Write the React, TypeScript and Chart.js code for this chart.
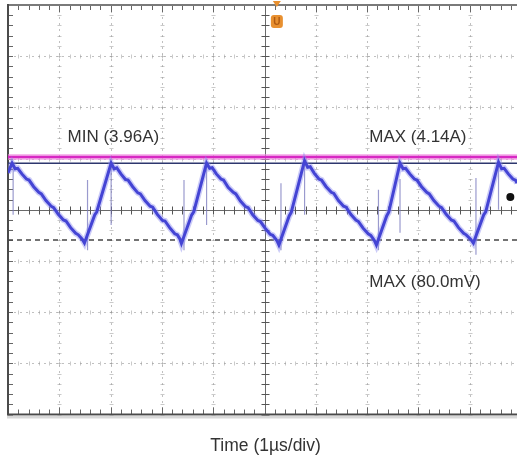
import React, { useEffect, useRef } from "react";
import { Chart, registerables } from "chart.js";

Chart.register(...registerables);

// Time axis in divisions (1 µs/div), current trace in vertical divisions
const timeDiv = [
  0.0,
  0.08, 0.14, 0.19, 0.27, 0.36, 0.41, 0.5, 0.6, 0.65, 0.74, 0.84, 0.89, 0.98, 1.08, 1.13, 1.22, 1.32, 1.37, 1.45, 1.49, 1.69, 1.73,
  2.01, 2.07, 2.12, 2.2, 2.29, 2.34, 2.43, 2.53, 2.58, 2.67, 2.77, 2.82, 2.91, 3.01, 3.06, 3.15, 3.25, 3.3, 3.35, 3.38, 3.58, 3.62,
  3.87, 3.93, 3.98, 4.06, 4.15, 4.2, 4.29, 4.39, 4.44, 4.53, 4.63, 4.68, 4.77, 4.87, 4.92, 5.01, 5.11, 5.16, 5.24, 5.28, 5.48, 5.52,
  5.78, 5.84, 5.89, 5.97, 6.06, 6.11, 6.2, 6.3, 6.35, 6.44, 6.54, 6.59, 6.68, 6.78, 6.83, 6.92, 7.02, 7.07, 7.14, 7.18, 7.38, 7.42,
  7.64, 7.7, 7.75, 7.83, 7.92, 7.97, 8.06, 8.16, 8.21, 8.3, 8.4, 8.45, 8.54, 8.64, 8.69, 8.78, 8.88, 8.93, 9.02, 9.07, 9.27, 9.31,
  9.56, 9.62, 9.67, 9.75, 9.84, 9.89, 9.92,
];
const currentDiv = [
  0.72,
  0.91, 0.8, 0.81, 0.7, 0.6, 0.58, 0.45, 0.34, 0.31, 0.18, 0.07, 0.04, -0.09, -0.2, -0.22, -0.35, -0.46, -0.49, -0.58, -0.65, -0.1, -0.04,
  0.91, 0.8, 0.82, 0.7, 0.59, 0.58, 0.45, 0.33, 0.31, 0.18, 0.07, 0.05, -0.09, -0.21, -0.22, -0.35, -0.47, -0.49, -0.57, -0.66, -0.1, -0.04,
  0.91, 0.81, 0.82, 0.7, 0.6, 0.58, 0.44, 0.34, 0.31, 0.17, 0.06, 0.04, -0.1, -0.21, -0.23, -0.36, -0.48, -0.5, -0.6, -0.69, -0.12, -0.05,
  0.96, 0.83, 0.84, 0.71, 0.6, 0.58, 0.45, 0.34, 0.32, 0.18, 0.07, 0.05, -0.09, -0.2, -0.23, -0.36, -0.47, -0.5, -0.6, -0.69, -0.12, -0.05,
  0.91, 0.8, 0.81, 0.7, 0.6, 0.58, 0.45, 0.34, 0.31, 0.18, 0.07, 0.04, -0.09, -0.2, -0.22, -0.35, -0.46, -0.49, -0.58, -0.65, -0.1, -0.04,
  0.93, 0.8, 0.81, 0.7, 0.6, 0.58, 0.52,
];

// switching spikes
const spikeTime = [0.1, 1.55, 2.01, 3.43, 3.87, 5.32, 5.78, 7.22, 7.64, 9.12, 9.56];
const spikeTop = [0.87, 0.58, 0.87, 0.58, 0.87, 0.52, 0.97, 0.39, 0.6, 0.62, 0.97];
const spikeBottom = [-0.1, -0.79, -0.3, -0.79, -0.3, -0.79, -0.1, -0.79, -0.45, -0.88, 0.0];

// cursor levels (divisions)
const minCursorLevel = 1.03;
const maxCursorLevel = 0.91;
const voltMaxLevel = -0.59;

const markerTime = [9.79];
const markerLevel = [0.25];

const labelTexts = ["MIN (3.96A)", "MAX (4.14A)", "MAX (80.0mV)"];
const xTitle = "Time (1µs/div)";
const triggerLetter = "U";

const X_MIN = 0;
const X_MAX = 9.92;
const Y_MIN = -4;
const Y_MAX = 4;

const FONT = '"Liberation Sans", Arial, Helvetica, sans-serif';

const scopePlugin = {
  id: "scope",
  beforeDraw(chart: any) {
    const ctx = chart.ctx;
    ctx.save();
    ctx.fillStyle = "#ffffff";
    ctx.fillRect(0, 0, chart.width, chart.height);
    ctx.restore();
  },
  beforeDatasetsDraw(chart: any) {
    const { ctx, chartArea: a } = chart;
    const xs = chart.scales.x;
    const ys = chart.scales.y;
    const line = (x1: number, y1: number, x2: number, y2: number) => {
      ctx.beginPath();
      ctx.moveTo(x1, y1);
      ctx.lineTo(x2, y2);
      ctx.stroke();
    };
    ctx.save();
    // dotted major grid
    ctx.strokeStyle = "rgba(165,165,165,0.7)";
    ctx.lineWidth = 1;
    ctx.setLineDash([2, 4]);
    for (let i = 1; i <= 9; i++) {
      if (i === 5) continue;
      const px = Math.round(xs.getPixelForValue(i)) + 0.5;
      line(px, a.top, px, a.bottom);
    }
    for (let j = -3; j <= 3; j++) {
      if (j === 0) continue;
      const py = Math.round(ys.getPixelForValue(j)) + 0.5;
      line(a.left, py, a.right, py);
    }
    ctx.setLineDash([]);
    // small minor marks on the grid lines
    ctx.strokeStyle = "rgba(150,150,150,0.5)";
    for (let i = 1; i <= 9; i++) {
      if (i === 5) continue;
      const px = Math.round(xs.getPixelForValue(i)) + 0.5;
      for (let k = -20; k <= 20; k++) {
        const py = Math.round(ys.getPixelForValue(k / 5)) + 0.5;
        line(px - 2, py, px + 2, py);
      }
    }
    for (let j = -3; j <= 3; j++) {
      if (j === 0) continue;
      const py = Math.round(ys.getPixelForValue(j)) + 0.5;
      for (let k = 0; k <= 50; k++) {
        const px = Math.round(xs.getPixelForValue(k / 5)) + 0.5;
        if (px > a.right) break;
        line(px, py - 2, px, py + 2);
      }
    }
    // center axes
    const cx = Math.round(xs.getPixelForValue(5)) + 0.5;
    const cy = Math.round(ys.getPixelForValue(0)) + 0.5;
    ctx.strokeStyle = "#6a6a6a";
    ctx.lineWidth = 1;
    line(cx, a.top, cx, a.bottom);
    line(a.left, cy, a.right, cy);
    ctx.strokeStyle = "#555";
    for (let k = -20; k <= 20; k++) {
      const py = Math.round(ys.getPixelForValue(k / 5)) + 0.5;
      line(cx - 4, py, cx + 4, py);
    }
    for (let k = 0; k <= 50; k++) {
      const px = Math.round(xs.getPixelForValue(k / 5)) + 0.5;
      if (px > a.right) break;
      line(px, cy - 4, px, cy + 4);
    }
    // border ticks
    ctx.strokeStyle = "#666";
    for (let k = 0; k <= 50; k++) {
      const px = Math.round(xs.getPixelForValue(k / 5)) + 0.5;
      if (px > a.right) break;
      const len = k % 5 === 0 ? 7 : 5;
      line(px, a.top, px, a.top + len);
      line(px, a.bottom, px, a.bottom - len);
    }
    for (let k = -20; k <= 20; k++) {
      const py = Math.round(ys.getPixelForValue(k / 5)) + 0.5;
      line(a.left, py, a.left + 5, py);
    }
    // frame
    ctx.fillStyle = "#7a7a7a";
    ctx.fillRect(a.left, a.top - 1, a.right - a.left, 2);
    ctx.fillStyle = "#4a4a4a";
    ctx.fillRect(a.left - 1, a.top - 1, 2, a.bottom - a.top + 2);
    ctx.fillRect(a.left - 1, a.bottom - 1, a.right - a.left + 1, 2);
    ctx.fillStyle = "rgba(200,200,200,0.7)";
    ctx.fillRect(a.left - 1, a.bottom + 1, a.right - a.left + 1, 3);
    ctx.restore();
  },
  afterDraw(chart: any) {
    const { ctx, chartArea: a } = chart;
    const xs = chart.scales.x;
    const ys = chart.scales.y;
    ctx.save();
    // trigger marker
    const tx = xs.getPixelForValue(5.24);
    ctx.fillStyle = "#e89030";
    ctx.beginPath();
    ctx.moveTo(tx - 4, a.top - 4);
    ctx.lineTo(tx + 4, a.top - 4);
    ctx.lineTo(tx, a.top + 2);
    ctx.closePath();
    ctx.fill();
    ctx.beginPath();
    ctx.roundRect(tx - 6, a.top + 10, 12, 13, 3);
    ctx.fill();
    ctx.fillStyle = "#b05a10";
    ctx.font = `bold 10px ${FONT}`;
    ctx.textAlign = "center";
    ctx.textBaseline = "middle";
    ctx.fillText(triggerLetter, tx, a.top + 17);

    // labels
    ctx.fillStyle = "#333333";
    ctx.font = `17px ${FONT}`;
    ctx.textAlign = "left";
    ctx.textBaseline = "middle";
    const pos = [
      [1.16, 1.42],
      [7.04, 1.42],
      [7.04, -1.41],
    ];
    labelTexts.forEach((t, i) => {
      ctx.fillText(t, xs.getPixelForValue(pos[i][0]), ys.getPixelForValue(pos[i][1]));
    });
    ctx.textAlign = "center";
    ctx.font = `17.5px ${FONT}`;
    ctx.fillText(xTitle, xs.getPixelForValue(5) + 1, a.bottom + 32);
    ctx.restore();
  },
};

export default function App() {
  const ref = useRef<HTMLCanvasElement>(null);
  useEffect(() => {
    const canvas = ref.current;
    if (!canvas) return;
    const wave = timeDiv.map((t, i) => ({ x: t, y: currentDiv[i] }));
    const spikes: any[] = [];
    spikeTime.forEach((t, i) => {
      spikes.push({ x: t, y: spikeTop[i] }, { x: t, y: spikeBottom[i] }, { x: t, y: null });
    });
    const span = (v: number) => [
      { x: X_MIN, y: v },
      { x: X_MAX, y: v },
    ];
    const chart = new Chart(canvas, {
      type: "line",
      data: {
        datasets: [
          {
            label: "marker",
            data: markerTime.map((t, i) => ({ x: t, y: markerLevel[i] })),
            showLine: false,
            pointRadius: 4,
            pointBackgroundColor: "#111",
            pointBorderWidth: 0,
            order: 0,
          },
          { label: "wave", data: wave, borderColor: "rgb(68,68,212)", borderWidth: 3, pointRadius: 0, order: 1 },
          { label: "waveHalo", data: wave, borderColor: "rgba(140,140,240,0.45)", borderWidth: 6, pointRadius: 0, order: 2 },
          { label: "spikes", data: spikes, borderColor: "rgba(120,120,190,0.75)", borderWidth: 1.2, pointRadius: 0, order: 3 },
          { label: "max", data: span(maxCursorLevel), borderColor: "rgb(45,55,110)", borderWidth: 1.5, pointRadius: 0, order: 4 },
          { label: "min", data: span(minCursorLevel), borderColor: "rgb(215,40,195)", borderWidth: 2.5, pointRadius: 0, order: 5 },
          { label: "minHalo", data: span(minCursorLevel), borderColor: "rgba(240,140,225,0.6)", borderWidth: 6, pointRadius: 0, order: 6 },
          {
            label: "vmax",
            data: span(voltMaxLevel),
            borderColor: "rgb(70,70,70)",
            borderWidth: 1.5,
            borderDash: [5, 4],
            pointRadius: 0,
            order: 7,
          },
        ] as any,
      },
      options: {
        animation: false,
        responsive: false,
        events: [],
        layout: { padding: { left: 8, top: 5, right: 0, bottom: 46.5 } },
        scales: {
          x: { type: "linear", min: X_MIN, max: X_MAX, display: false },
          y: { type: "linear", min: Y_MIN, max: Y_MAX, display: false },
        },
        elements: { line: { tension: 0 } },
        plugins: { legend: { display: false }, tooltip: { enabled: false } },
      } as any,
      plugins: [scopePlugin],
    });
    return () => chart.destroy();
  }, []);
  return (
    <div style={{ position: "absolute", left: 0, top: 0, width: 521, height: 461 }}>
      <canvas ref={ref} width={521} height={461} style={{ width: 521, height: 461 }} />
    </div>
  );
}
